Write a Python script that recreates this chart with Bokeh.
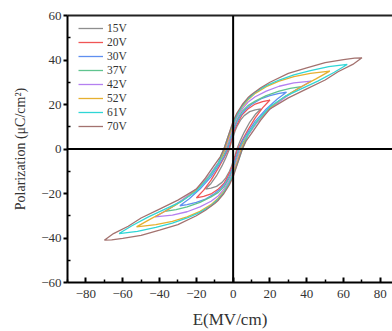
from bokeh.plotting import figure
from bokeh.models import Span, LinearAxis, FixedTicker, Range1d
from bokeh.embed import file_html
from bokeh.resources import INLINE

# ---- data (upper branch, E in MV/cm, P in uC/cm^2) ----
labels = ["15V", "20V", "30V", "37V", "42V", "52V", "61V", "70V"]
colors = ["#8e8e8e", "#f05555", "#5f8ff0", "#5fc48f", "#b480f0", "#e6b030", "#2fd6d6", "#a3726f"]

E15 = [-15, -12, -9, -6, -4, -2, -1, 0, 1, 2, 4, 6, 9, 12, 15]
P15 = [-18, -15.5, -12, -7.5, -4, 0, 3, 5.5, 8, 10, 13, 15, 16.8, 17.6, 18]

E20 = [-20, -16, -12, -8, -5, -2.5, -1, 0, 1.5, 3, 5, 8, 12, 16, 20]
P20 = [-22, -18.5, -14, -8.5, -4, 0, 4, 7, 10, 12.5, 15.5, 18, 20.2, 21.3, 22]

E30 = [-29, -24, -18, -12, -8, -5, -3, -1.5, 0, 2, 4, 7, 10, 15, 20, 25, 29]
P30 = [-25.5, -22.5, -18, -12.5, -7.5, -3.5, 0, 4, 8, 12, 15, 18, 20, 22.5, 24, 25, 25.5]

E37 = [-37, -31, -24, -17, -11, -7, -5, -3.5, -2, 0, 2, 5, 8, 12, 18, 25, 31, 37]
P37 = [-28, -25, -21, -16, -10, -5, -2.5, 0, 4, 9, 13, 17, 19.5, 21.5, 24, 26, 27.2, 28]

E42 = [-42.5, -36, -28, -20, -13, -8, -6, -4, -2, 0, 2, 5, 8, 12, 18, 25, 33, 42.5]
P42 = [-30.5, -27.5, -23, -18, -12, -6, -3, 0, 5, 10, 14, 18, 21, 23.5, 26, 28.2, 29.7, 30.5]

E52 = [-52.5, -45, -37, -28, -20, -13, -8, -6, -4.5, -2.5, 0, 2, 5, 8, 12, 18, 25, 33, 42, 52.5]
P52 = [-35, -31.5, -28, -23.5, -18.5, -12.5, -6.5, -3, 0, 5, 11, 15, 19, 22, 25, 28, 30.5, 32.5, 34, 35]

E61 = [-62, -55, -46, -37, -28, -20, -13, -8, -6, -5, -3, -1, 0, 2, 5, 8, 12, 18, 25, 33, 42, 52, 62]
P61 = [-38, -34.5, -30.5, -27, -23.5, -19, -12.5, -6.5, -2, 0, 5, 9.5, 11.5, 15, 19.5, 22.5, 25.5, 28.5, 31, 33.3, 35.2, 37, 38]

E70 = [-70, -65, -57, -50, -40, -30, -20, -15, -10, -7, -5, -3, -1, 0, 2, 5, 8, 10, 15, 20, 30, 40, 50, 60, 66, 70]
P70 = [-41, -38, -34.7, -31, -27, -23, -18, -13, -7, -3.5, 0, 5, 10, 12.5, 16, 20, 23, 24.5, 27.5, 30, 34, 36.5, 38.8, 40.2, 40.8, 41]

branches = [(E15, P15), (E20, P20), (E30, P30), (E37, P37),
            (E42, P42), (E52, P52), (E61, P61), (E70, P70)]

x_ticks = [-80, -60, -40, -20, 0, 20, 40, 60, 80]
x_minor = [-90, -70, -50, -30, -10, 10, 30, 50, 70, 90]
y_ticks = [-60, -40, -20, 0, 20, 40, 60]
y_minor = [-50, -30, -10, 10, 30, 50]

SERIF = "Liberation Serif"

p = figure(width=392, height=331, x_range=Range1d(-90, 86.6), y_range=Range1d(-60, 60),
           output_backend="svg", toolbar_location=None,
           min_border_left=67, min_border_top=15, min_border_right=0, min_border_bottom=48)
p.outline_line_color = None
p.grid.visible = False
p.background_fill_color = "white"

for (E, P), lab, col in zip(branches, labels, colors):
    # loop: upper branch, then the centro-symmetric lower branch
    xs = list(E) + [-e for e in E]
    ys = list(P) + [-v for v in P]
    p.line(xs, ys, line_color=col, line_width=1.3, legend_label=lab)

p.add_layout(Span(location=0, dimension="height", line_color="black", line_width=2))
p.add_layout(Span(location=0, dimension="width", line_color="black", line_width=2))

xa = p.below[0]
xa.ticker = FixedTicker(ticks=x_ticks, minor_ticks=x_minor)
xa.axis_line_width = 2
xa.major_tick_in = 5
xa.major_tick_out = 0
xa.minor_tick_in = 3
xa.minor_tick_out = 0
xa.major_tick_line_width = 2
xa.minor_tick_line_width = 1.5
xa.major_label_text_font = SERIF
xa.major_label_text_font_size = "13px"
xa.major_label_text_color = "#333333"
xa.major_label_standoff = 7
xa.axis_label = "E(MV/cm)"
xa.axis_label_text_font = SERIF
xa.axis_label_text_font_size = "17px"
xa.axis_label_text_font_style = "normal"
xa.axis_label_text_color = "#333333"
xa.axis_label_text_line_height = 1.0
xa.axis_label_standoff = 9

ya = p.left[0]
ya.ticker = FixedTicker(ticks=y_ticks, minor_ticks=y_minor)
ya.axis_line_width = 2
ya.major_tick_in = 0
ya.major_tick_out = 4
ya.minor_tick_in = 3
ya.minor_tick_out = 0
ya.major_tick_line_width = 2
ya.minor_tick_line_width = 1.5
ya.major_label_text_font = SERIF
ya.major_label_text_font_size = "13px"
ya.major_label_text_color = "#333333"
ya.major_label_standoff = 2
ya.axis_label = "Polarization (\u03bcC/cm\u00b2)"
ya.axis_label_text_font = SERIF
ya.axis_label_text_font_size = "14px"
ya.axis_label_text_font_style = "normal"
ya.axis_label_text_color = "#333333"
ya.axis_label_standoff = 10

top = LinearAxis(ticker=FixedTicker(ticks=[]), axis_line_width=2, axis_line_color="#222222",
                 major_tick_line_color=None, minor_tick_line_color=None,
                 major_label_text_font_size="0px")
p.add_layout(top, "above")

lg = p.legend[0]
lg.location = (11, 149)
lg.margin = 0
lg.padding = 0
lg.spacing = 0
lg.glyph_width = 25
lg.glyph_height = 14
lg.label_height = 14
lg.label_standoff = 4
lg.label_text_font = SERIF
lg.label_text_font_size = "11.5px"
lg.label_text_color = "#333333"
lg.background_fill_alpha = 0
lg.border_line_color = None

open("out.html", "w").write(file_html(p, INLINE))
